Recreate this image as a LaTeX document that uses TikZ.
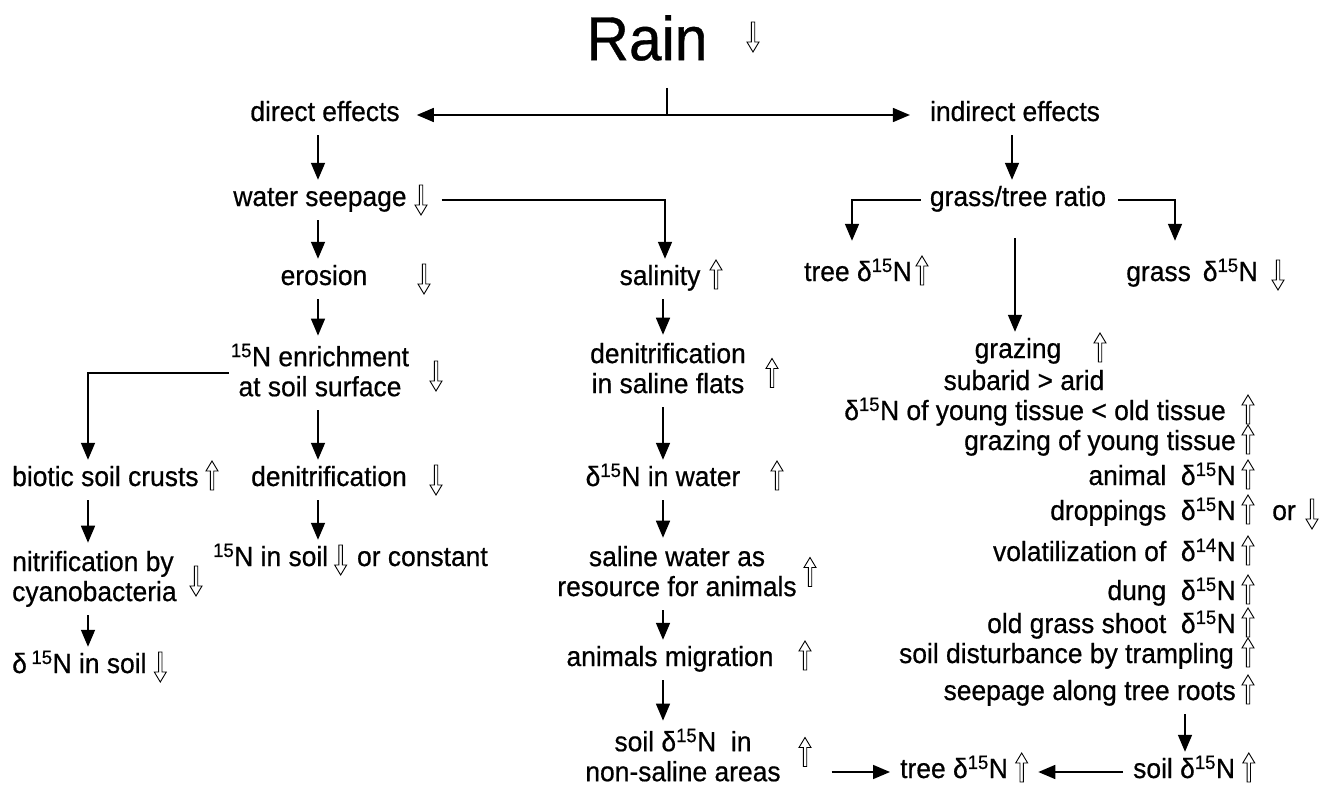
\documentclass[tikz,border=0pt]{standalone}
\usepackage{fontspec}
\setmainfont{Liberation Sans}[FakeStretch=0.95,FakeBold=0.6]
\usetikzlibrary{arrows.meta,calc}
\newcommand\fs{\fontsize{27.8}{30}\selectfont}
\newcommand\upA{\tikz[baseline=0pt,x=1pt,y=1pt,line width=0.9pt,line join=miter]\draw[fill=white] (-1.7,-4) -- (-1.7,15) -- (-6,15) -- (0,25) -- (6,15) -- (1.7,15) -- (1.7,-4) -- cycle;}
\newcommand\dnA{\tikz[baseline=0pt,x=1pt,y=1pt,line width=0.9pt,line join=miter]\draw[fill=white] (-1.7,21) -- (-1.7,1) -- (-6,1) -- (0,-9) -- (6,1) -- (1.7,1) -- (1.7,21) -- cycle;}
\newcommand\iso[1]{\textsuperscript{#1}}
\newcommand\lnst{\rule[-6pt]{0pt}{20pt}}
\begin{document}
\begin{tikzpicture}[x=1pt,y=-1pt,
  txt/.style={font=\fs, inner xsep=0pt, inner ysep=8pt, text height=18pt, text depth=6pt},
  txt2/.style={font=\fs, inner xsep=0pt, inner ysep=8pt, align=center},
  ha/.style={inner sep=0pt},
  arr/.style={line width=1.6pt, -{Triangle[length=17pt,width=14pt]}},
  ln/.style={line width=1.5pt}]
\fill[white] (0,0) rectangle (1334,789);
\useasboundingbox (0,0) rectangle (1334,789);

% title
\node[inner sep=0pt, font=\fontsize{62}{64}\selectfont] (rain) at (647,38) {Rain};
\node[ha] (rainA) at (753,37) {\dnA};

% top level
\node[txt, anchor=base] (direct) at (325,121) {direct effects};
\node[txt, anchor=base] (indirect) at (1015,121) {indirect effects};

% left branch
\node[txt, anchor=base] (seep) at (320,206) {water seepage};
\node[ha, anchor=base] (seepA) at (421,206) {\dnA};
\node[txt, anchor=base] (ero) at (324,285) {erosion};
\node[ha, anchor=base] (eroA) at (424,285) {\dnA};
\node[txt2] (enr) at (320,373) {\lnst\iso{15}N enrichment\\\lnst at soil surface};
\node[ha] (enrA) at (436,376) {\dnA};
\node[txt, anchor=base west] (biotic) at (12,486) {biotic soil crusts};
\node[ha, anchor=base] (bioticA) at (212,486) {\upA};
\node[txt, anchor=base] (den) at (329,486) {denitrification};
\node[ha, anchor=base] (denA) at (436,486) {\dnA};
\node[txt2, align=left, anchor=west] (nit) at (12,579) {\lnst nitrification by\\\lnst cyanobacteria};
\node[ha] (nitA) at (196,581) {\dnA};
\node[txt, anchor=base west] (soil15) at (213,566) {\iso{15}N in soil\hspace{6pt}\dnA\hspace{10pt}or constant};
\node[txt, anchor=base west] (dsoil) at (12,673) {δ\,\iso{15}N in soil \dnA};

% middle branch
\node[txt, anchor=base] (sal) at (660,285) {salinity};
\node[ha, anchor=base] (salA) at (716,285) {\upA};
\node[txt2] (dsal) at (668,371) {\lnst denitrification\\\lnst in saline flats};
\node[ha] (dsalA) at (772,373) {\upA};
\node[txt, anchor=base] (wat) at (663,486) {δ\iso{15}N in water};
\node[ha, anchor=base] (watA) at (777,486) {\upA};
\node[txt2] (swr) at (677,574) {\lnst saline water as\\\lnst resource for animals};
\node[ha] (swrA) at (810,572) {\upA};
\node[txt, anchor=base] (mig) at (670,666) {animals migration};
\node[ha, anchor=base] (migA) at (805,666) {\upA};
\node[txt2] (nsal) at (683,758) {\lnst soil δ\iso{15}N\ \ in\\\lnst non-saline areas};
\node[ha] (nsalA) at (805,752) {\upA};
\node[txt, anchor=base west] (treeB) at (900,778) {tree δ\iso{15}N \upA};
\node[txt, anchor=base west] (soilB) at (1133,778) {soil δ\iso{15}N \upA};

% right branch
\node[txt, anchor=base] (gt) at (1018,206) {grass/tree ratio};
\node[txt, anchor=base] (treeU) at (858,281) {tree δ\iso{15}N};
\node[ha, anchor=base] (treeUA) at (922,281) {\upA};
\node[txt, anchor=base] (grass) at (1192,281) {grass \,δ\iso{15}N};
\node[ha, anchor=base] (grassA) at (1278,281) {\dnA};
\node[txt, anchor=base] (graz) at (1018,358) {grazing};
\node[ha, anchor=base] (grazA) at (1100,358) {\upA};
\node[txt, anchor=base] (sub) at (1024,390) {subarid > arid};
\node[txt, anchor=base east] (young) at (1226,420) {δ\iso{15}N of young tissue < old tissue};
\node[ha, anchor=base] (youngA) at (1248,420) {\upA};
\node[txt, anchor=base east] (gyoung) at (1236,450) {grazing of young tissue};
\node[ha, anchor=base] (gyoungA) at (1248,450) {\upA};
\node[txt, anchor=base east] (anim) at (1236,485) {animal \ δ\iso{15}N};
\node[ha, anchor=base] (animA) at (1248,485) {\upA};
\node[txt, anchor=base east] (drop) at (1236,520) {droppings \ δ\iso{15}N};
\node[ha, anchor=base] (dropA) at (1248,520) {\upA};
\node[txt, anchor=base] (or) at (1284,520) {or};
\node[ha, anchor=base] (orA) at (1312,520) {\dnA};
\node[txt, anchor=base east] (vol) at (1236,561) {volatilization of \ δ\iso{14}N};
\node[ha, anchor=base] (volA) at (1248,561) {\upA};
\node[txt, anchor=base east] (dung) at (1236,600) {dung \ δ\iso{15}N};
\node[ha, anchor=base] (dungA) at (1248,600) {\upA};
\node[txt, anchor=base east] (old) at (1236,633) {old grass shoot \ δ\iso{15}N};
\node[ha, anchor=base] (oldA) at (1248,633) {\upA};
\node[txt, anchor=base east] (trmp) at (1234,663) {soil disturbance by trampling};
\node[ha, anchor=base] (trmpA) at (1248,663) {\upA};
\node[txt, anchor=base east] (seepR) at (1236,700) {seepage along tree roots};
\node[ha, anchor=base] (seepRA) at (1248,700) {\upA};

% columns and free ends
\coordinate (tee) at (667,88);
\coordinate (cA) at (318,0);
\coordinate (cB) at (88,0);
\coordinate (cC) at (663,0);
\coordinate (cS) at (665,0);
\coordinate (cD) at (1012,0);
\coordinate (cT) at (852,0);
\coordinate (cG) at (1175,0);
\coordinate (cR) at (1185,0);
\coordinate (gzTop) at (1015,238);

% connectors
\draw[ln] (tee) -- (tee |- direct.center) coordinate (teeJ);
\draw[arr] (teeJ) -- ($(direct.east)+(17,0)$);
\draw[arr] (teeJ) -- ($(indirect.west)+(-20,0)$);

\draw[arr] (direct.south -| cA) -- (seep.north -| cA);
\draw[arr] (seep.south -| cA) -- (ero.north -| cA);
\draw[arr] (ero.south -| cA) -- (enr.north -| cA);
\draw[arr] (enr.south -| cA) -- (den.north -| cA);
\draw[arr] (den.south -| cA) -- (soil15.north -| cA);
\draw[arr] ($(enr.west)+(-2,0)$) -| (biotic.north -| cB);
\draw[arr] (biotic.south -| cB) -- (nit.north -| cB);
\draw[arr] (nit.south -| cB) -- (dsoil.north -| cB);

\draw[arr] ($(seepA.east |- seep.center)+(14,0)$) -| (sal.north -| cS);
\draw[arr] (sal.south -| cC) -- (dsal.north -| cC);
\draw[arr] (dsal.south -| cC) -- (wat.north -| cC);
\draw[arr] (wat.south -| cC) -- (swr.north -| cC);
\draw[arr] (swr.south -| cC) -- (mig.north -| cC);
\draw[arr] (mig.south -| cC) -- (nsal.north -| cC);
\draw[arr] ($(nsalA.east |- treeB.west)+(20,0)$) -- ($(treeB.west)+(-10,0)$);
\draw[arr] ($(soilB.west)+(-10,0)$) -- ($(treeB.east)+(10,0)$);

\draw[arr] (indirect.south -| cD) -- (gt.north -| cD);
\draw[arr] ($(gt.west)+(-9,0)$) -| ($(treeU.north -| cT)+(0,-14)$);
\draw[arr] ($(gt.east)+(12,0)$) -| ($(grass.north -| cG)+(0,-14)$);
\draw[arr] (gzTop) -- (graz.north -| gzTop);
\draw[arr] (seepR.south -| cR) -- (soilB.north -| cR);
\end{tikzpicture}
\end{document}
